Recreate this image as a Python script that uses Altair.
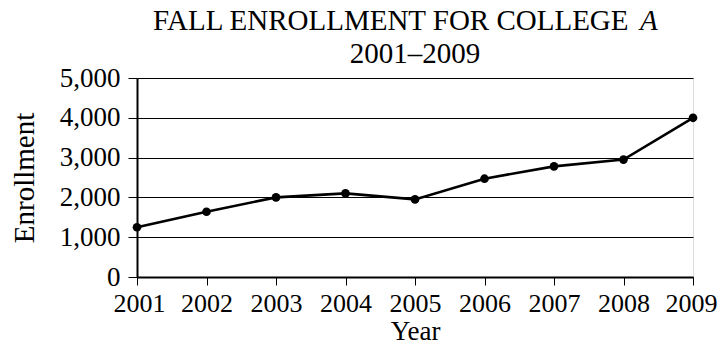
import altair as alt
import pandas as pd

years = [2001, 2002, 2003, 2004, 2005, 2006, 2007, 2008, 2009]
enrollment = [1250, 1640, 2000, 2100, 1950, 2470, 2780, 2950, 4000]
y_ticks = [0, 1000, 2000, 3000, 4000, 5000]
title_main = "FALL ENROLLMENT FOR COLLEGE"
title_italic = "A"
title_years = "2001–2009"
x_title = "Year"
y_title = "Enrollment"

FONT = "Liberation Serif"
df = pd.DataFrame({"Year": years, "Enrollment": enrollment})

x_enc = alt.X(
    "Year:Q",
    scale=alt.Scale(domain=[years[0], years[-1]], nice=False, zero=False),
    axis=alt.Axis(
        values=years, format="d", title=x_title, grid=False,
        domainColor="black", domainWidth=2, tickColor="black", tickSize=8,
        tickWidth=1, labelFont=FONT, labelFontSize=26, labelColor="black",
        labelPadding=5, labelOverlap=False, labelFlush=True,
        labelFlushOffset=24,
        titleFont=FONT, titleFontSize=27, titleFontWeight="normal",
        titleColor="black", titleY=62, titleBaseline="alphabetic",
    ),
)
y_enc = alt.Y(
    "Enrollment:Q",
    scale=alt.Scale(domain=[0, 5000], nice=False),
    axis=alt.Axis(
        values=y_ticks, format=",d", title=y_title, grid=True, gridColor="black",
        gridWidth=1, gridOpacity=1, domainColor="black", domainWidth=2,
        tickColor="black", tickSize=9, tickWidth=1, labelFont=FONT,
        labelFontSize=27, labelColor="black", labelPadding=8,
        labelOverlap=False, labelFlush=False,
        titleFont=FONT, titleFontSize=29, titleFontWeight="normal",
        titleColor="black", titlePadding=20,
    ),
)

base = alt.Chart(df).encode(x=x_enc, y=y_enc)
line = base.mark_line(color="black", strokeWidth=2.6)
pts = base.mark_point(filled=True, color="black", size=75, opacity=1)

t1 = alt.Chart(pd.DataFrame({"t": [title_main]})).mark_text(
    font=FONT, fontSize=29, align="left", baseline="alphabetic", color="black"
).encode(text="t:N", x=alt.value(16), y=alt.value(-48))
t2 = alt.Chart(pd.DataFrame({"t": [title_italic]})).mark_text(
    font=FONT, fontSize=29, fontStyle="italic", align="left",
    baseline="alphabetic", color="black"
).encode(text="t:N", x=alt.value(503), y=alt.value(-48))
t3 = alt.Chart(pd.DataFrame({"t": [title_years]})).mark_text(
    font=FONT, fontSize=29, align="center", baseline="alphabetic", color="black"
).encode(text="t:N", x=alt.value(278), y=alt.value(-15))

chart = alt.layer(line, pts, t1, t2, t3).properties(
    width=556, height=199,
    autosize=alt.AutoSizeParams(type="none"),
    padding={"left": 129, "top": 70, "right": 24, "bottom": 63},
).configure_view(stroke="black", strokeWidth=1).configure(background="white")

chart.save("out.html", embed_options={"renderer": "svg", "actions": False})
